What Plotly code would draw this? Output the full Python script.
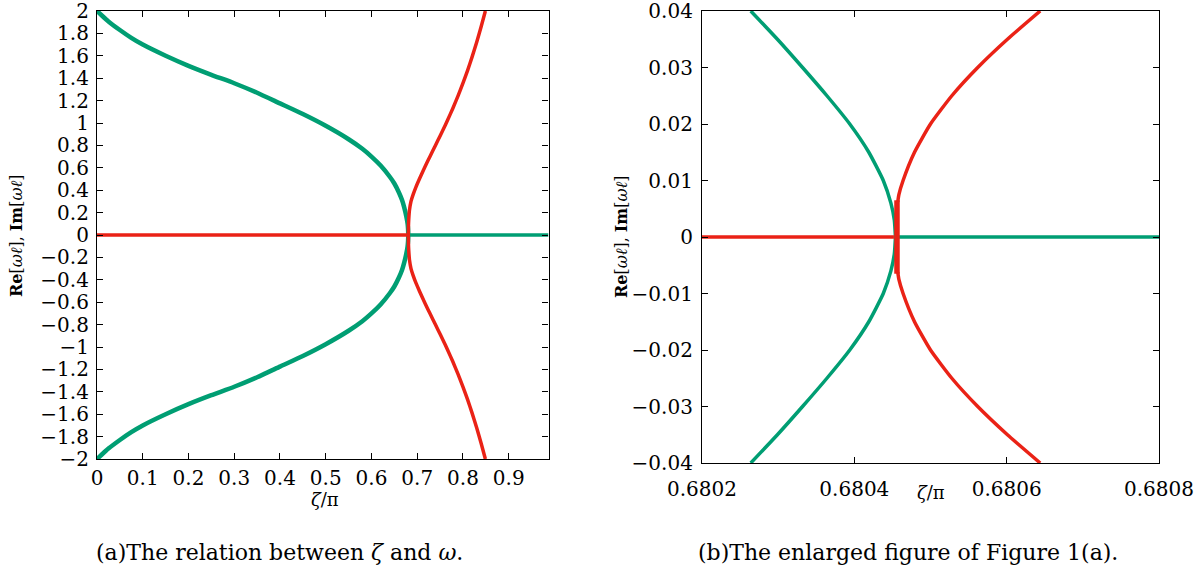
import plotly.graph_objects as go

# ---------------- Panel (a) data ----------------
a_green_zeta = [0.0, 0.01, 0.025, 0.05, 0.075, 0.1, 0.15, 0.2, 0.25, 0.3, 0.35, 0.4, 0.45,
                0.5, 0.55, 0.58, 0.6, 0.62, 0.64, 0.65, 0.66, 0.667, 0.672, 0.676, 0.679,
                0.6800, 0.6805]
a_green_val = [2.0, 1.962, 1.907, 1.83, 1.76, 1.70, 1.60, 1.51, 1.43, 1.355, 1.27, 1.175, 1.08,
               0.975, 0.855, 0.77, 0.70, 0.62, 0.52, 0.46, 0.38, 0.31, 0.24, 0.17, 0.10,
               0.055, 0.0]
a_red_zeta = [0.6805, 0.6808, 0.6815, 0.683, 0.6864, 0.691, 0.6974, 0.705, 0.712, 0.723,
              0.734, 0.745, 0.756, 0.767, 0.778, 0.789, 0.800, 0.81, 0.82, 0.83, 0.84, 0.849]
a_red_val = [0.0, 0.07, 0.14, 0.22, 0.30, 0.36, 0.43, 0.502, 0.565, 0.66, 0.752, 0.843, 0.935,
             1.031, 1.132, 1.24, 1.355, 1.468, 1.59, 1.722, 1.864, 2.0]
a_green_flat_zeta = [0.6805, 0.987]
a_red_flat_zeta = [0.0, 0.6805]
a_xticks = [0, 0.1, 0.2, 0.3, 0.4, 0.5, 0.6, 0.7, 0.8, 0.9]
a_xticklabels = ["0", "0.1", "0.2", "0.3", "0.4", "0.5", "0.6", "0.7", "0.8", "0.9"]
a_yticks = [2 - 0.2 * i for i in range(21)]
a_yticklabels = ["2", "1.8", "1.6", "1.4", "1.2", "1", "0.8", "0.6", "0.4", "0.2", "0",
                 "\u22120.2", "\u22120.4", "\u22120.6", "\u22120.8", "\u22121", "\u22121.2",
                 "\u22121.4", "\u22121.6", "\u22121.8", "\u22122"]

# ---------------- Panel (b) data ----------------
b_green_zeta = [0.680264, 0.680299, 0.680332, 0.680364, 0.680394, 0.680419, 0.680438,
                0.680448, 0.6804525, 0.680454]
b_green_val = [0.04, 0.035, 0.03, 0.025, 0.02, 0.015, 0.01, 0.006, 0.003, 0.0]
b_red_zeta = [0.680644, 0.680601, 0.680562, 0.680528, 0.680500, 0.680479, 0.680464,
              0.6804585, 0.680457]
b_red_val = [0.04, 0.035, 0.03, 0.025, 0.02, 0.015, 0.01, 0.0075, 0.0062]
b_red_flat_zeta = [0.6802, 0.680452]
b_green_flat_zeta = [0.680455, 0.6808]
b_red_jump_zeta = [0.680456, 0.680456]
b_red_jump_val = [-0.0065, 0.0065]
b_xticks = [0.6802, 0.6804, 0.6806, 0.6808]
b_xticklabels = ["0.6802", "0.6804", "0.6806", "0.6808"]
b_yticks = [0.04, 0.03, 0.02, 0.01, 0.0, -0.01, -0.02, -0.03, -0.04]
b_yticklabels = ["0.04", "0.03", "0.02", "0.01", "0", "\u22120.01", "\u22120.02",
                 "\u22120.03", "\u22120.04"]

GREEN = "rgb(0,158,115)"
RED = "rgb(234,34,22)"
FONT = "DejaVu Serif, Liberation Serif, serif"

fig = go.Figure()


def add(x, y, color, width, xa, ya):
    fig.add_trace(go.Scatter(x=x, y=y, mode="lines", line=dict(color=color, width=width,
                             shape="spline", smoothing=0.5),
                             xaxis=xa, yaxis=ya, showlegend=False, hoverinfo="skip"))


# panel (a)
add(a_green_zeta, a_green_val, GREEN, 4.5, "x", "y")
add(a_green_zeta, [-v for v in a_green_val], GREEN, 4.5, "x", "y")
add(a_green_flat_zeta, [0, 0], GREEN, 3.5, "x", "y")
add(a_red_flat_zeta, [0, 0], RED, 3.5, "x", "y")
add(a_red_zeta, a_red_val, RED, 3.5, "x", "y")
add(a_red_zeta, [-v for v in a_red_val], RED, 3.5, "x", "y")

# panel (b)
add(b_green_zeta, b_green_val, GREEN, 3.5, "x2", "y2")
add(b_green_zeta, [-v for v in b_green_val], GREEN, 3.5, "x2", "y2")
add(b_green_flat_zeta, [0, 0], GREEN, 3.5, "x2", "y2")
add(b_red_flat_zeta, [0, 0], RED, 3.5, "x2", "y2")
add(b_red_zeta, b_red_val, RED, 3.5, "x2", "y2")
add(b_red_zeta, [-v for v in b_red_val], RED, 3.5, "x2", "y2")
add(b_red_jump_zeta, b_red_jump_val, RED, 5.5, "x2", "y2")

W, H = 1195, 571


def px_x(p):
    return p / W


def px_y(p):
    return 1 - p / H


axis_common = dict(showline=True, linecolor="black", linewidth=1.2, mirror="ticks",
                   ticks="inside", ticklen=6, tickwidth=1, tickcolor="black",
                   showgrid=False, zeroline=False, tickmode="array", automargin=False,
                   ticklabeloverflow="allow",
                   tickfont=dict(family=FONT, size=20, color="black"))

fig.update_layout(
    width=W, height=H, margin=dict(l=0, r=0, t=0, b=0, autoexpand=False),
    paper_bgcolor="white", plot_bgcolor="white",
    xaxis=dict(domain=[px_x(97), px_x(548.5)], range=[0, 0.987], tickvals=a_xticks,
               ticktext=a_xticklabels, anchor="y", ticklabelstandoff=1, **axis_common),
    yaxis=dict(domain=[px_y(459), px_y(11)], range=[-2, 2], tickvals=a_yticks,
               ticktext=a_yticklabels, anchor="x", ticklabelstandoff=3, **axis_common),
    xaxis2=dict(domain=[px_x(702), px_x(1159)], range=[0.6802, 0.6808], tickvals=b_xticks,
                ticktext=b_xticklabels, anchor="y2", ticklabelstandoff=8, **axis_common),
    yaxis2=dict(domain=[px_y(463), px_y(11)], range=[-0.04, 0.04], tickvals=b_yticks,
                ticktext=b_yticklabels, anchor="x2", ticklabelstandoff=4, **axis_common),
)


def note(text, xp, yp, size, angle=0):
    fig.add_annotation(text=text, x=px_x(xp), y=px_y(yp), xref="paper", yref="paper",
                       showarrow=False, textangle=angle, xanchor="center", yanchor="middle",
                       font=dict(family=FONT, size=size, color="black"))


ytitle = "<b>Re</b>[<i>\u03c9\u2113</i>], <b>Im</b>[<i>\u03c9\u2113</i>]"
note(ytitle, 16, 236, 16, -90)
note(ytitle, 621, 237, 16, -90)
note("<i>\u03b6</i>/\u03c0", 325, 499, 18)
note("<i>\u03b6</i>/\u03c0", 931, 492, 18)
note("(a)The relation between <i>\u03b6</i> and <i>\u03c9</i>.", 279, 552, 22)
note("(b)The enlarged figure of Figure 1(a).", 908, 552, 22)

fig.write_html("out.html")
